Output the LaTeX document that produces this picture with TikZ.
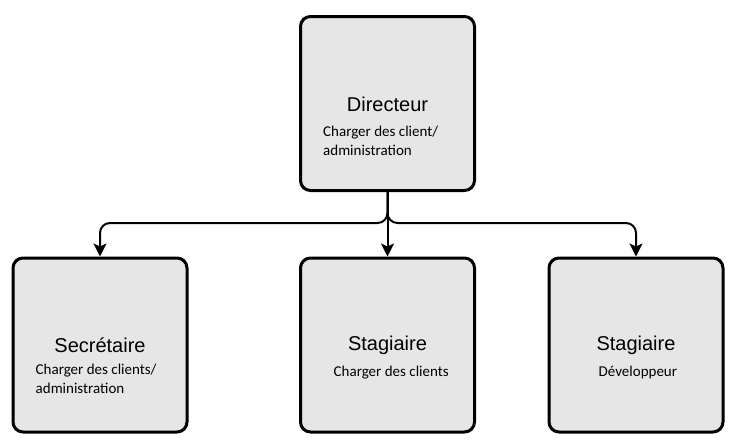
\documentclass[tikz,border=0pt]{standalone}
\usepackage{fontspec}
\setmainfont{Liberation Sans}
\newfontfamily\subfont{Carlito}
\usetikzlibrary{arrows.meta}
\definecolor{boxfill}{HTML}{E6E6E6}
\tikzset{
  orgbox/.style={draw=black, line width=3pt, fill=boxfill, rounded corners=10pt,
    minimum width=174pt, minimum height=174pt, inner sep=0pt},
  title/.style={font=\fontsize{20}{24}\selectfont, inner sep=0pt, text=black},
  sub/.style={font=\subfont\fontsize{15}{18.5}\selectfont, inner sep=0pt, align=left, text=black},
  conn/.style={line width=2pt, rounded corners=10pt, -{Stealth[length=13pt,width=13pt,inset=3pt]}}
}
\begin{document}
\begin{tikzpicture}[x=1pt,y=1pt]
\useasboundingbox (0,0) rectangle (745,-447);
\node[orgbox] (dir) at (387.5,-103.5) {};
\node[orgbox] (sec) at (100,-345) {};
\node[orgbox] (st1) at (387.5,-345) {};
\node[orgbox] (st2) at (636,-345) {};

\node[title] (tdir) at (387.5,-104) {Directeur};
\node[sub, anchor=north west] (sdir) at (323,-126) {Charger des client/\\administration};

\node[title] (tsec) at (100,-345) {Secrétaire};
\node[sub, anchor=north west] (ssec) at (35.5,-364) {Charger des clients/\\administration};

\node[title] (tst1) at (387.5,-345) {Stagiaire};
\node[sub, anchor=north west] (sst1) at (333.5,-366) {Charger des clients};

\node[title] (tst2) at (636,-345) {Stagiaire};
\node[sub, anchor=north west] (sst2) at (598.5,-366) {Développeur};

\coordinate (jn) at (387.5,-223);
\draw[conn] (dir.south) -- (jn) -| (sec.north);
\draw[conn] (dir.south) -- (jn) -| (st2.north);
\draw[conn] (dir.south) -- (st1.north);
\end{tikzpicture}
\end{document}
